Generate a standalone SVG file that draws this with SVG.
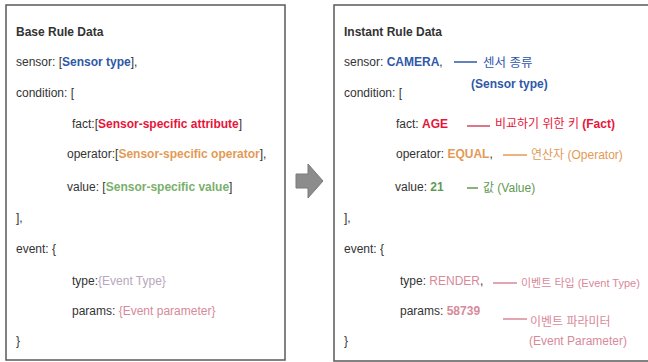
<svg xmlns="http://www.w3.org/2000/svg" width="648" height="362" viewBox="0 0 648 362">
<style>
text{font-family:"Liberation Sans","Noto Sans CJK KR",sans-serif;font-size:12px;fill:#333}
.b{font-weight:bold}
.box{fill:#fff;stroke:#5a5a5a;stroke-width:1.5}
.blue{fill:#2f58a8}
.red{fill:#e8143a}
.org{fill:#e39a55}
.grn{fill:#5f9a55}
.lgrn{fill:#79b06c}
.evt{fill:#b8a6bc}
.pink{fill:#d8899a}
.ln{stroke-width:1.5;fill:none}
</style>
<rect width="648" height="362" fill="#fff"/>
<g id="base-rule">
<rect class="box" x="6" y="5" width="279" height="355"/>
<text x="16" y="36" class="b">Base Rule Data</text>
<text x="16" y="66">sensor: [<tspan class="b blue">Sensor type</tspan>],</text>
<text x="16" y="97">condition: [</text>
<text x="72" y="128">fact:[<tspan class="b red">Sensor-specific attribute</tspan>]</text>
<text x="67" y="158">operator:[<tspan class="b org">Sensor-specific operator</tspan>],</text>
<text x="67" y="191">value: [<tspan class="b lgrn">Sensor-specific value</tspan>]</text>
<text x="16" y="222">],</text>
<text x="16" y="253">event: {</text>
<text x="72" y="285">type:<tspan class="evt">{Event Type}</tspan></text>
<text x="72" y="315">params: <tspan class="pink">{Event parameter}</tspan></text>
<text x="16" y="345">}</text>
</g>
<g id="instant-rule">
<rect class="box" x="334" y="5" width="330" height="356"/>
<text x="344" y="36" class="b">Instant Rule Data</text>
<text x="344" y="66">sensor: <tspan class="b blue">CAMERA</tspan>,</text>
<text x="483" y="67" class="blue" style="font-size:12.5px">센서 종류</text>
<text x="471" y="88" class="b blue">(Sensor type)</text>
<text x="344" y="97">condition: [</text>
<text x="396" y="128">fact: <tspan class="b red">AGE</tspan></text>
<text x="495" y="128" class="red">비교하기 위한 키 <tspan class="b">(Fact)</tspan></text>
<text x="396" y="158">operator: <tspan class="b org">EQUAL</tspan>,</text>
<text x="531" y="159" class="org">연산자 (Operator)</text>
<text x="395" y="191">value: <tspan class="b grn">21</tspan></text>
<text x="483" y="192" class="grn">값 (Value)</text>
<text x="344" y="222">],</text>
<text x="344" y="253">event: {</text>
<text x="400" y="285">type: <tspan class="pink">RENDER</tspan>,</text>
<text x="521" y="287" class="pink" style="font-size:11px">이벤트 타입 (Event Type)</text>
<text x="400" y="315">params: <tspan class="b pink">58739</tspan></text>
<text x="530" y="326" class="pink">이벤트 파라미터</text>
<text x="529" y="345" class="pink">(Event Parameter)</text>
<text x="344" y="345">}</text>
</g>
<g id="connectors">
<polygon points="296,174 308,174 308,164 323,181 308,198 308,188 296,188" fill="#8c8c8c" stroke="#7a7a7a" stroke-width="1"/>
<line class="ln" x1="454" y1="62" x2="477" y2="62" stroke="#2f58a8"/>
<line class="ln" x1="467" y1="126" x2="490" y2="126" stroke="#d04a64"/>
<line class="ln" x1="503" y1="155" x2="527" y2="155" stroke="#e39a55"/>
<line class="ln" x1="467" y1="188" x2="478" y2="188" stroke="#5f9a55"/>
<line class="ln" x1="493" y1="283" x2="517" y2="283" stroke="#d8899a"/>
<line class="ln" x1="503" y1="319" x2="527" y2="319" stroke="#d8899a"/>
</g>
</svg>
